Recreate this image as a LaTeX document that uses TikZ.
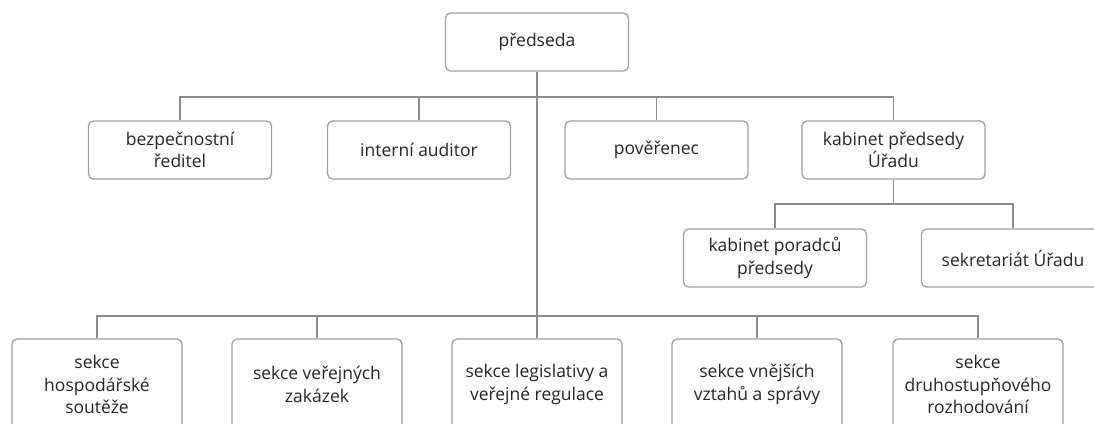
\documentclass[tikz,border=0pt]{standalone}
\usepackage{fontspec}
\setmainfont{Open Sans}
\definecolor{linegray}{HTML}{8C8C8C}
\definecolor{boxgray}{HTML}{A0A0A0}
\definecolor{txt}{HTML}{262626}
\tikzset{
  orgbox/.style={draw=boxgray, line width=1.3pt, rounded corners=5pt, fill=white,
    align=center, text=txt, inner sep=2pt,
    font=\fontsize{17.5}{22.5}\selectfont},
  topbox/.style={orgbox, minimum width=183pt, minimum height=58pt},
  secbox/.style={orgbox, minimum width=170pt, minimum height=91pt},
  conn/.style={draw=linegray, line width=1.8pt}
}
\begin{document}
\begin{tikzpicture}[x=1pt, y=-1pt]
\useasboundingbox (0,0) rectangle (1094,423);
\clip (0,0) rectangle (1094,423);
\fill[white] (0,0) rectangle (1094,423);
% hubs
\coordinate (hubA) at (537,97);
\coordinate (hubB) at (537,316);
\coordinate (hubC) at (893.5,204);
% connectors first (below boxes)
\node[topbox] (pred) at (537,42) {předseda};
\node[topbox] (bezp) at (180,150) {bezpečnostní\\ředitel};
\node[topbox] (audit) at (419,150) {interní auditor};
\node[topbox] (pover) at (656.5,150) {pověřenec};
\node[topbox] (kab) at (893.5,150) {kabinet předsedy\\Úřadu};
\node[topbox] (kporad) at (775,258) {kabinet poradců\\předsedy};
\node[topbox] (sekr) at (1013,258) {sekretariát Úřadu};
\node[secbox] (s1) at (97,384.5) {sekce\\hospodářské\\soutěže};
\node[secbox] (s2) at (317,384.5) {sekce veřejných\\zakázek};
\node[secbox] (s3) at (537,384.5) {sekce legislativy a\\veřejné regulace};
\node[secbox] (s4) at (757,384.5) {sekce vnějších\\vztahů a správy};
\node[secbox] (s5) at (978,384.5) {sekce\\druhostupňového\\rozhodování};
% level 1
\draw[conn] (pred.south) -- (s3.north);
\draw[conn] (bezp.north) |- (hubA);
\draw[conn] (audit.north) |- (hubA);
\draw[conn] (pover.north) |- (hubA);
\draw[conn] (kab.north) |- (hubA);
% kabinet children
\draw[conn] (kab.south) -- (hubC);
\draw[conn] (kporad.north) |- (hubC);
\draw[conn] (sekr.north) |- (hubC);
% sections
\draw[conn] (s1.north) |- (hubB);
\draw[conn] (s2.north) |- (hubB);
\draw[conn] (s4.north) |- (hubB);
\draw[conn] (s5.north) |- (hubB);
\end{tikzpicture}
\end{document}
